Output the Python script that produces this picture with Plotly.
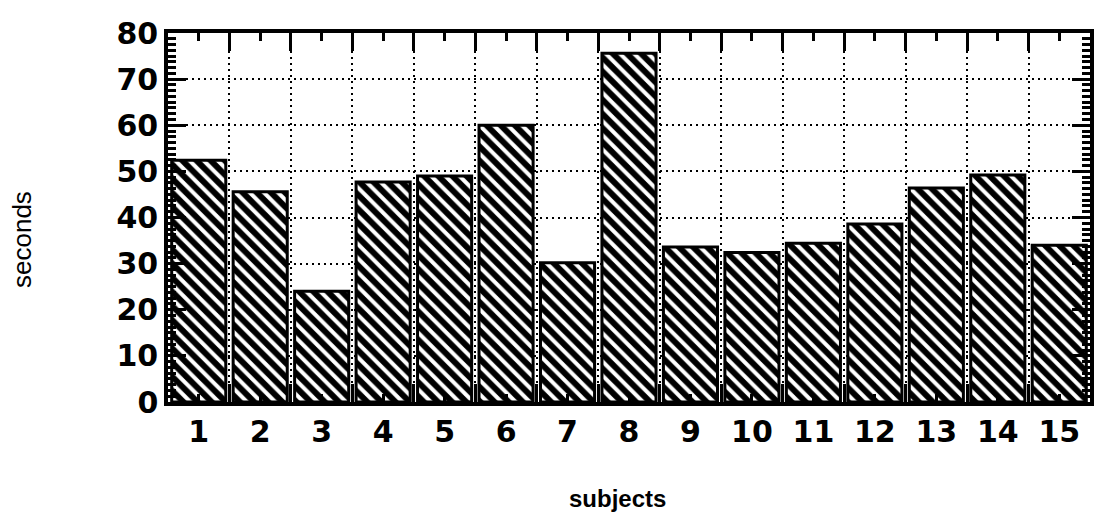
import plotly.graph_objects as go

subjects = list(range(1, 16))
subject_labels = [str(s) for s in subjects]
seconds = [52.4, 45.6, 24.0, 47.7, 49.0, 60.0, 30.2, 75.6, 33.6, 32.4, 34.4, 38.6, 46.4, 49.2, 34.0]
y_ticks = [0, 10, 20, 30, 40, 50, 60, 70, 80]
boundaries = [s + 0.5 for s in subjects[:-1]]

tick_font = dict(family="DejaVu Sans", size=30, color="black", weight="bold")

L, R, T, B = 168, 5, 33, 112
W, H = 1095, 514
pw, ph = W - L - R, H - T - B

fig = go.Figure()
fig.add_trace(go.Bar(
    x=subjects, y=seconds, width=0.88,
    marker=dict(color="white", line=dict(color="black", width=3),
                pattern=dict(shape="\\", fgcolor="black", bgcolor="white", fgopacity=1,
                             size=10, solidity=0.6)),
    showlegend=False, hoverinfo="skip",
))
fig.add_trace(go.Scatter(x=[1], y=[0], xaxis="x2", mode="markers",
                         marker=dict(opacity=0), showlegend=False, hoverinfo="skip"))

fig.update_layout(
    width=W, height=H,
    margin=dict(l=L, r=R, t=T, b=B),
    paper_bgcolor="white", plot_bgcolor="white",
    xaxis=dict(range=[0.5, 15.5], tickmode="array", tickvals=subjects, ticktext=subject_labels,
               ticks="", showgrid=False, zeroline=False, showline=True, linewidth=3.5,
               linecolor="black", mirror=True, tickfont=tick_font, automargin=False),
    xaxis2=dict(range=[0.5, 15.5], overlaying="x", side="top", tickmode="array", tickvals=boundaries,
                ticks="inside", ticklen=18, tickwidth=2.5, tickcolor="black", showticklabels=False,
                showgrid=True, gridcolor="black", gridwidth=2, griddash="2px,4px",
                showline=True, linewidth=3.5, linecolor="black", mirror="ticks", zeroline=False,
                automargin=False,
                minor=dict(tickmode="array", tickvals=subjects, ticks="inside", ticklen=8,
                           tickwidth=2.5, tickcolor="black", showgrid=False)),
    yaxis=dict(range=[0, 80], tickmode="array", tickvals=y_ticks, ticks="inside", ticklen=18,
               tickwidth=2.5, tickcolor="black", showgrid=True, gridcolor="black", gridwidth=2,
               griddash="2px,4px", showline=True, linewidth=3.5, linecolor="black", mirror="ticks",
               zeroline=False, tickfont=tick_font, automargin=False,
               minor=dict(dtick=1.25, tick0=0, ticks="inside", ticklen=8, tickwidth=2.5,
                          tickcolor="black", showgrid=False)),
    annotations=[
        dict(text="seconds", textangle=-90, showarrow=False, xref="paper", yref="paper",
             x=(22 - L) / pw, y=(T + ph - 240) / ph, xanchor="center", yanchor="middle",
             font=dict(family="Liberation Sans", size=26, color="black")),
        dict(text="subjects", showarrow=False, xref="paper", yref="paper",
             x=(617 - L) / pw, y=(T + ph - 498) / ph, xanchor="center", yanchor="middle",
             font=dict(family="Liberation Sans", size=24, color="black", weight="bold")),
    ],
)

fig.write_html("out.html", config={"displayModeBar": False},
               post_script="document.body.style.margin='0';")
